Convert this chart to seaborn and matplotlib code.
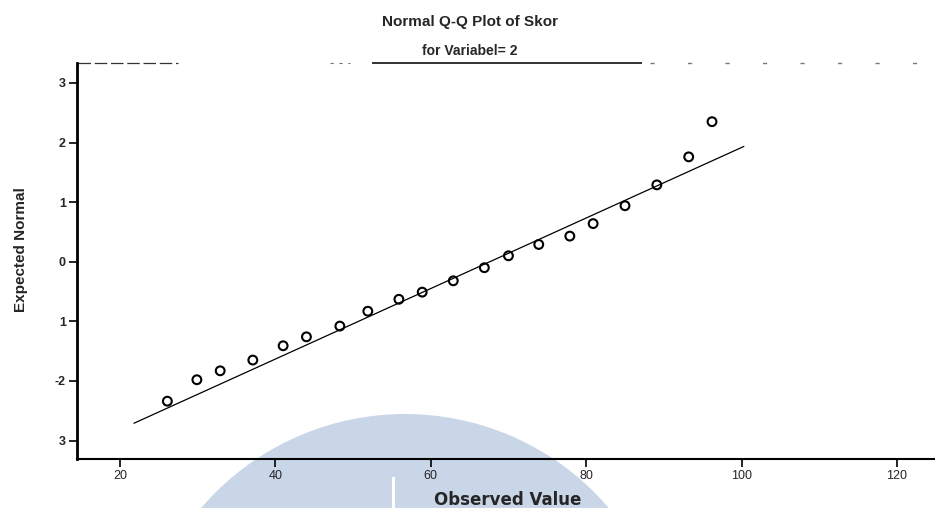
import matplotlib
matplotlib.use("Agg")
import matplotlib.pyplot as plt
import numpy as np
import pandas as pd
import seaborn as sns
from matplotlib.patches import Ellipse, Rectangle

# Observed scores and their expected normal quantiles
observed = [26.1, 29.9, 32.9, 37.1, 41.0, 44.0, 48.3, 51.9, 55.9, 58.9,
            62.9, 66.9, 70.0, 73.9, 77.9, 80.9, 85.0, 89.1, 93.2, 96.2]
expected = [-2.34, -1.98, -1.83, -1.65, -1.41, -1.26, -1.08, -0.83, -0.63, -0.51,
            -0.32, -0.10, 0.10, 0.29, 0.43, 0.64, 0.94, 1.29, 1.76, 2.35]

# Reference normal line: expected = (x - mean) / sd
line_mean = 67.6
line_sd = 16.9
line_x = [21.8, 100.3]

x_ticks = [20, 40, 60, 80, 100, 120]
x_tick_labels = ["20", "40", "60", "80", "100", "120"]
y_ticks = [3, 2, 1, 0, -1, -2, -3]
y_tick_labels = ["3", "2", "1", "0", "1", "-2", "3"]

title_text = "Normal Q-Q Plot of Skor"
subtitle_text = "for Variabel= 2"
x_label = "Observed Value"
y_label = "Expected Normal"

points = pd.DataFrame({"observed": observed, "expected": expected})
line = pd.DataFrame({"x": line_x})
line["y"] = (line["x"] - line_mean) / line_sd

sns.set_theme(style="white")
plt.rcParams["font.family"] = ["Liberation Sans", "DejaVu Sans"]

W, H = 935, 508
fig = plt.figure(figsize=(W / 100, H / 100), dpi=100)
fig.patch.set_facecolor("white")

# pale logo stamp behind the plot (circle given in pixels)
cx, cy, r = 405, 682, 268
fig.add_artist(Ellipse((cx / W, 1 - cy / H), 2 * r / W, 2 * r / H,
                       transform=fig.transFigure, facecolor="#c9d6e8",
                       edgecolor="none", zorder=-2))
fig.add_artist(Rectangle((392 / W, 0), 3 / W, (508 - 477) / H, transform=fig.transFigure,
                         facecolor="white", edgecolor="none", zorder=-1))

left, right, top, bottom = 77, 935, 62.7, 459
ax = fig.add_axes([left / W, 1 - bottom / H, (right - left) / W, (bottom - top) / H])
ax.set_facecolor("none")

sns.lineplot(data=line, x="x", y="y", ax=ax, color="black", linewidth=0.9)
sns.scatterplot(data=points, x="observed", y="expected", ax=ax, marker="o",
                s=40, facecolor="none", edgecolor="black", linewidth=1.5)

ax.set_xlim(14.47, 124.9)
ax.set_ylim(-3.31, 3.34)
ax.set_xticks(x_ticks)
ax.set_xticklabels(x_tick_labels, fontsize=9)
ax.set_yticks(y_ticks)
ax.set_yticklabels(y_tick_labels, fontsize=9, fontweight="bold")
ax.tick_params(axis="both", direction="out", length=6, width=1.2, color="black",
               pad=2, bottom=True, left=True)

ax.spines["right"].set_visible(False)
ax.spines["top"].set_visible(False)
ax.spines["left"].set_linewidth(2.0)
ax.spines["left"].set_color("black")
ax.spines["bottom"].set_linewidth(1.5)
ax.spines["bottom"].set_color("black")

# faded top frame: only parts of it remain visible
def frame_piece(x0, x1, color="#333333", **kw):
    ax.plot([(x0 - left) / (right - left), (x1 - left) / (right - left)], [1, 1],
            transform=ax.transAxes, clip_on=False, color=color,
            dash_capstyle="butt", solid_capstyle="butt", **kw)

frame_piece(78, 178, linewidth=0.9, linestyle=(0, (10, 3)))
frame_piece(330, 350, linewidth=0.8, linestyle=(0, (3, 5)), color="#777777")
frame_piece(372, 642, linewidth=1.4)
frame_piece(650, 935, linewidth=1.0, linestyle=(0, (3, 24)), color="#777777")

ax.set_xlabel("")
ax.set_ylabel(y_label, fontsize=11, fontweight="bold")
ax.yaxis.set_label_coords(-(77 - 28) / (right - left), (bottom - 250) / (bottom - top))

fig.text(508 / W, 1 - 505 / H, x_label, ha="center", va="baseline",
         fontsize=12, fontweight="bold", family="DejaVu Sans")
fig.text(470 / W, 1 - 22 / H, title_text, ha="center", va="center",
         fontsize=11, fontweight="bold")
fig.text(470 / W, 1 - 51 / H, subtitle_text, ha="center", va="center",
         fontsize=10, fontweight="bold")

fig.savefig("out.png", dpi=100)
